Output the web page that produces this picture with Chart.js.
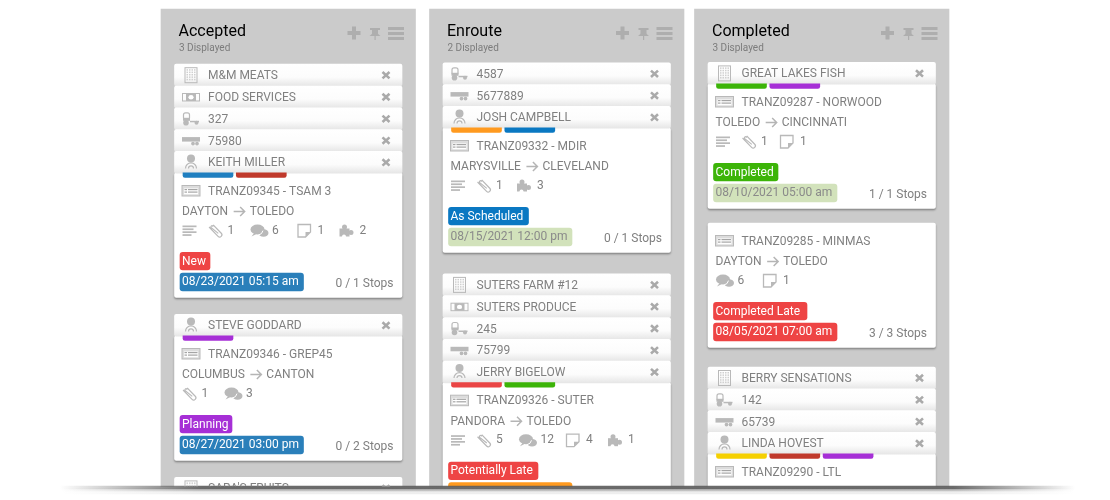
<!DOCTYPE html>
<html>
<head>
<meta charset="utf-8">
<style>html,body{margin:0;background:#fff}canvas{display:block}</style>
<script src="https://cdn.jsdelivr.net/npm/chart.js@4"></script>
</head>
<body>
<canvas id="board" width="1110" height="500"></canvas>
<script>
// board content, one entry per column or per card
const columnNames = ['Accepted', 'Enroute', 'Completed']
const columnCounts = ['3 Displayed', '2 Displayed', '3 Displayed']
const cardColumn = [0, 0, 0, 1, 1, 2, 2, 2]
const cardBodyTop = [173, 336, 499, 128, 382.7, 84, 223, 454]
const cardRows = [
  ['M&M MEATS', 'FOOD SERVICES', '327', '75980', 'KEITH MILLER'],
  ['STEVE GODDARD'],
  ["SARA'S FRUITS"],
  ['4587', '5677889', 'JOSH CAMPBELL'],
  ['SUTERS FARM #12', 'SUTERS PRODUCE', '245', '75799', 'JERRY BIGELOW'],
  ['GREAT LAKES FISH'],
  [],
  ['BERRY SENSATIONS', '142', '65739', 'LINDA HOVEST']
]
const cardRowIcons = [
  ['building', 'money', 'truck', 'trailer', 'person'],
  ['person'],
  ['building'],
  ['truck', 'trailer', 'person'],
  ['building', 'money', 'truck', 'trailer', 'person'],
  ['building'],
  [],
  ['building', 'truck', 'trailer', 'person']
]
const cardTabs = [
  ['#1f7fc0', '#c0392b'], ['#a62fd6'], [], ['#ff9a1f', '#0a78c2'],
  ['#ea4545', '#3cb408'], ['#3cb408', '#a62fd6'], [], ['#f5d000', '#c0392b', '#a62fd6']
]
const cardTrips = ['TRANZ09345 - TSAM 3', 'TRANZ09346 - GREP45', '', 'TRANZ09332 - MDIR', 'TRANZ09326 - SUTER', 'TRANZ09287 - NORWOOD', 'TRANZ09285 - MINMAS', 'TRANZ09290 - LTL']
const cardOrigins = ['DAYTON', 'COLUMBUS', '', 'MARYSVILLE', 'PANDORA', 'TOLEDO', 'DAYTON', '']
const cardDestinations = ['TOLEDO', 'CANTON', '', 'CLEVELAND', 'TOLEDO', 'CINCINNATI', 'TOLEDO', '']
const cardCounts = [
  [['list'], ['clip', 1], ['chat', 6], ['note', 1], ['puzzle', 2]],
  [['clip', 1], ['chat', 3]],
  [],
  [['list'], ['clip', 1], ['puzzle', 3]],
  [['list'], ['clip', 5], ['chat', 12], ['note', 4], ['puzzle', 1]],
  [['list'], ['clip', 1], ['note', 1]],
  [['chat', 6], ['note', 1]],
  []
]
const cardStatus = ['New', 'Planning', '', 'As Scheduled', 'Potentially Late', 'Completed', 'Completed Late', '']
const cardStatusWidth = [30, 52, 0, 80, 89.5, 64.5, 93.5, 0]
const cardStatusColor = ['#ee4444', '#a62fd6', '', '#0a78c2', '#ee4444', '#3cb408', '#ee4444', '']
const cardDates = ['08/23/2021 05:15 am', '08/27/2021 03:00 pm', '', '08/15/2021 12:00 pm', '', '08/10/2021 05:00 am', '08/05/2021 07:00 am', '']
const cardDateColor = ['#2a7fba', '#2a7fba', '', '#d2e2bb', '#ff9a1f', '#d2e2bb', '#ee4444', '']
const cardDateText = ['#fff', '#fff', '', '#8a8a8a', '#fff', '#8a8a8a', '#fff', '']
const cardStops = ['0 / 1 Stops', '0 / 2 Stops', '', '0 / 1 Stops', '', '1 / 1 Stops', '3 / 3 Stops', '']

// column geometry on the 1110 x 500 scales
const boardLeft = [161, 429.5, 694.5]
const boardWidth = 254.5
const cardLeft = [174.5, 443, 708]
const cardWidth = 227.5
const rowH = 21.8
const bodyH = 124.5

function span(l, r, y) { return { x: [l, r], y } }

const boardBars = [], bodyBars = [], rowBars = [], tabBars = [], tabColors = []
const statusBars = [], statusColors = [], dateBars = [], dateColors = []
columnNames.forEach((n, i) => boardBars.push(span(boardLeft[i], boardLeft[i] + boardWidth, 248)))
cardBodyTop.forEach((top, i) => {
  const left = cardLeft[cardColumn[i]]
  bodyBars.push(span(left, left + cardWidth, top + bodyH / 2))
  cardRows[i].forEach((r, j) => {
    const rowTop = top - rowH * (cardRows[i].length - j)
    rowBars.push(span(left, left + cardWidth, rowTop + rowH / 2 + 0.2))
  })
  cardTabs[i].forEach((c, j) => {
    const l = left + 8.5 + j * 53.3
    tabBars.push(span(l, l + 50, top + 2.2))
    tabColors.push(c)
  })
  if (cardStatus[i]) {
    statusBars.push(span(left + 5.5, left + 5.5 + cardStatusWidth[i], top + 88.2))
    statusColors.push(cardStatusColor[i])
  }
  if (cardDateColor[i]) {
    dateBars.push(span(left + 5.5, left + 129, top + 109))
    dateColors.push(cardDateColor[i])
  }
})

function rowGradient(c) {
  const py = c.parsed ? c.chart.scales.y.getPixelForValue(c.parsed.y) : NaN
  if (!Number.isFinite(py)) return '#fff'
  const g = c.chart.ctx.createLinearGradient(0, py - rowH / 2, 0, py + rowH / 2)
  g.addColorStop(0, '#ffffff')
  g.addColorStop(0.6, '#fcfcfc')
  g.addColorStop(1, '#e6e6e6')
  return g
}

// the floor shadow fades out at both ends
function floorGradient(alpha) {
  return c => {
    const g = c.chart.ctx.createLinearGradient(60, 0, 1075, 0)
    g.addColorStop(0, 'rgba(90,90,90,0)')
    g.addColorStop(0.14, `rgba(90,90,90,${alpha})`)
    g.addColorStop(0.88, `rgba(90,90,90,${alpha})`)
    g.addColorStop(1, 'rgba(90,90,90,0)')
    return g
  }
}

// painted back to front, order falls as the layer goes up
const layers = [
  { id: 'boards', data: boardBars, barThickness: 478, backgroundColor: '#cbcbcb' },
  { id: 'bodies', data: bodyBars, barThickness: bodyH, backgroundColor: '#fff', borderRadius: 2 },
  { id: 'rows', data: rowBars, barThickness: rowH, backgroundColor: rowGradient, borderRadius: 2 },
  { id: 'tabs', data: tabBars, barThickness: 4.5, backgroundColor: tabColors, borderRadius: { topLeft: 0, topRight: 0, bottomLeft: 4, bottomRight: 4 } },
  { id: 'status', data: statusBars, barThickness: 17.5, backgroundColor: statusColors, borderRadius: 3 },
  { id: 'dates', data: dateBars, barThickness: 18, backgroundColor: dateColors, borderRadius: 3 },
  { id: 'cover', data: [span(0, 1110, 493.5)], barThickness: 13, backgroundColor: '#fff' },
  { id: 'floor1', data: [span(60, 1075, 487.5)], barThickness: 3, backgroundColor: floorGradient(0.9) },
  { id: 'floor2', data: [span(60, 1075, 490)], barThickness: 2, backgroundColor: floorGradient(0.35) },
  { id: 'floor3', data: [span(60, 1075, 492.5)], barThickness: 3, backgroundColor: floorGradient(0.1) }
]
const datasets = layers.map((l, i) => ({ ...l, label: l.id, grouped: false, borderSkipped: false, order: layers.length - i }))

const ICON = '#b9b9b9'
const icons = {
  building(c, x, y) {
    c.strokeStyle = ICON; c.lineWidth = 1
    c.strokeRect(x - 6, y - 7.5, 12, 15)
    c.fillStyle = '#d0d0d0'
    for (let i = 0; i < 4; i++) for (let j = 0; j < 5; j++) c.fillRect(x - 4.5 + i * 2.5, y - 6 + j * 2.4, 1.5, 1.5)
  },
  money(c, x, y) {
    c.strokeStyle = ICON; c.lineWidth = 1
    c.strokeRect(x - 8.5, y - 3.5, 17, 7.5)
    c.fillStyle = ICON
    c.fillRect(x - 5, y - 3.5, 10, 7.5)
    c.fillStyle = '#fff'
    c.beginPath(); c.ellipse(x, y + 0.2, 2.6, 2.2, 0, 0, Math.PI * 2); c.fill()
  },
  truck(c, x, y) {
    c.strokeStyle = ICON; c.lineWidth = 1.2
    c.beginPath(); c.roundRect(x - 7.5, y - 6, 6, 7, 2); c.stroke()
    c.fillStyle = ICON
    c.fillRect(x - 8, y - 1, 7, 3)
    c.fillRect(x - 1, y + 2, 9, 1.5)
    c.beginPath(); c.arc(x - 5, y + 4, 2.8, 0, Math.PI * 2); c.fill()
    c.beginPath(); c.arc(x + 5.5, y + 4, 2, 0, Math.PI * 2); c.fill()
  },
  trailer(c, x, y) {
    c.fillStyle = ICON
    c.fillRect(x - 9, y - 3.5, 18, 4.5)
    c.beginPath(); c.arc(x + 2, y + 3, 1.9, 0, Math.PI * 2); c.arc(x + 6, y + 3, 1.9, 0, Math.PI * 2); c.fill()
  },
  person(c, x, y) {
    c.fillStyle = ICON
    c.beginPath(); c.arc(x, y - 4, 4, 0, Math.PI * 2); c.fill()
    c.strokeStyle = ICON; c.lineWidth = 1.2
    c.beginPath(); c.arc(x, y + 6, 5.5, Math.PI, 0); c.stroke()
    c.beginPath(); c.arc(x, y + 6, 2.5, Math.PI, 0); c.stroke()
  },
  id(c, x, y) {
    c.fillStyle = '#dcdcdc'
    c.fillRect(x - 9, y - 5, 18, 10.5)
    c.strokeStyle = ICON; c.lineWidth = 1
    c.strokeRect(x - 9, y - 5, 18, 10.5)
    c.fillStyle = '#fff'
    c.fillRect(x - 7, y - 2, 14, 5.8)
    c.fillStyle = '#a5a5a5'
    c.fillRect(x - 6.5, y - 1.5, 2.5, 1.2)
    c.fillRect(x - 6.5, y + 1, 2.5, 1.2)
    c.fillRect(x - 3, y - 1.5, 9.5, 1.2)
    c.fillRect(x - 3, y + 1, 9.5, 1.2)
  },
  list(c, x, y) {
    c.fillStyle = ICON
    ;[14, 11, 14, 9].forEach((w, i) => c.fillRect(x, y - 5 + i * 2.9, w, 1.7))
  },
  clip(c, x, y) {
    c.strokeStyle = ICON; c.lineWidth = 1.2
    c.save(); c.translate(x + 7, y); c.rotate(0.8)
    c.beginPath(); c.moveTo(-7, 2.2); c.lineTo(6, 2.2); c.arc(6, 0, 2.2, Math.PI / 2, -Math.PI / 2, true); c.lineTo(-5, -2.2)
    c.arc(-5, 0, 1.1, -Math.PI / 2, Math.PI / 2, true); c.lineTo(4, 0); c.stroke()
    c.restore()
  },
  chat(c, x, y) {
    c.fillStyle = ICON
    c.beginPath(); c.ellipse(x + 7, y - 1, 7, 5, 0, 0, Math.PI * 2); c.fill()
    c.beginPath(); c.ellipse(x + 13, y + 2.5, 5, 3.8, 0, 0, Math.PI * 2); c.fill()
    c.beginPath(); c.moveTo(x + 1, y + 6); c.lineTo(x + 4, y + 2); c.lineTo(x + 7, y + 3); c.fill()
    c.strokeStyle = '#fff'; c.lineWidth = 1
    c.beginPath(); c.arc(x + 7, y - 1, 5.6, 0.2, 1.4); c.stroke()
  },
  note(c, x, y) {
    c.strokeStyle = ICON; c.lineWidth = 1.3
    c.beginPath(); c.moveTo(x + 13, y + 1.5); c.lineTo(x + 13, y - 6); c.lineTo(x + 0.5, y - 6); c.lineTo(x + 0.5, y + 6.5); c.lineTo(x + 8, y + 6.5); c.closePath(); c.stroke()
    c.fillStyle = ICON
    c.beginPath(); c.moveTo(x + 8, y + 6.5); c.lineTo(x + 8, y + 1.5); c.lineTo(x + 13, y + 1.5); c.fill()
  },
  puzzle(c, x, y) {
    c.fillStyle = ICON
    c.fillRect(x, y - 2, 10, 8)
    c.beginPath(); c.arc(x + 5, y - 3.5, 2.5, 0, Math.PI * 2); c.arc(x + 11.5, y + 2, 2.5, 0, Math.PI * 2); c.fill()
    c.fillStyle = '#fff'
    c.beginPath(); c.arc(x + 4.5, y + 6, 2, 0, Math.PI * 2); c.fill()
  }
}
const iconAdvance = { list: 26, clip: 38, chat: 47, note: 40 }
const iconLead = { chat: 4, puzzle: 2 }
const countOffset = { clip: 19, chat: 21.5, note: 20, puzzle: 20 }

const boardText = {
  id: 'boardText',
  afterDatasetsDraw(chart) {
    const c = chart.ctx
    const X = v => chart.scales.x.getPixelForValue(v)
    const Y = v => chart.scales.y.getPixelForValue(v)
    const GREY = '#808080'
    const text = (s, x, y, font, color, align) => {
      c.font = font; c.fillStyle = color; c.textAlign = align || 'left'; c.textBaseline = 'middle'
      c.fillText(s, X(x), Y(y + 1))
    }
    c.save()
    c.beginPath(); c.rect(0, 0, 1110, Y(486.5)); c.clip()

    columnNames.forEach((name, i) => {
      const l = boardLeft[i]
      text(name, l + 17.5, 31, '16px Roboto', '#000')
      text(columnCounts[i], l + 18, 47, '10px Roboto', '#7c7c7c')
      // header tools
      c.fillStyle = '#aeaeae'
      c.fillRect(X(l + 186.5), Y(31), 13, 4)
      c.fillRect(X(l + 191), Y(26.5), 4, 13)
      c.fillRect(X(l + 209), Y(28), 10, 2)
      c.fillRect(X(l + 211), Y(28), 6, 6)
      c.beginPath(); c.moveTo(X(l + 208.5), Y(36)); c.lineTo(X(l + 219.5), Y(36)); c.lineTo(X(l + 216), Y(33)); c.lineTo(X(l + 212), Y(33)); c.fill()
      c.fillRect(X(l + 213.5), Y(36), 1.2, 4)
      ;[27, 32, 37].forEach(y => c.fillRect(X(l + 227), Y(y), 16, 3))
    })

    cardBodyTop.forEach((top, i) => {
      const left = cardLeft[cardColumn[i]]
      cardRows[i].forEach((r, j) => {
        const y = top - rowH * (cardRows[i].length - j) + rowH / 2 + 0.3
        icons[cardRowIcons[i][j]](c, X(left + 16.5), Y(y))
        text(r, left + 33.5, y, '12px Roboto', GREY)
        c.strokeStyle = '#aaaaaa'; c.lineWidth = 2.6
        c.beginPath()
        c.moveTo(X(left + 208), Y(y - 3.2)); c.lineTo(X(left + 215), Y(y + 3.2))
        c.moveTo(X(left + 215), Y(y - 3.2)); c.lineTo(X(left + 208), Y(y + 3.2))
        c.stroke()
      })
      if (!cardTrips[i]) return
      icons.id(c, X(left + 16.5), Y(top + 17.5))
      text(cardTrips[i], left + 33.5, top + 17.5, '12px Roboto', GREY)
      if (cardOrigins[i]) {
        text(cardOrigins[i], left + 7.5, top + 38, '12px Roboto', GREY)
        const end = left + 7.5 + c.measureText(cardOrigins[i]).width
        c.strokeStyle = '#b5b5b5'; c.lineWidth = 1.5
        c.beginPath()
        c.moveTo(X(end + 5.5), Y(top + 38.5)); c.lineTo(X(end + 16.5), Y(top + 38.5))
        c.moveTo(X(end + 12), Y(top + 34)); c.lineTo(X(end + 16.5), Y(top + 38.5)); c.lineTo(X(end + 12), Y(top + 43))
        c.stroke()
        text(cardDestinations[i], end + 21.5, top + 38, '12px Roboto', GREY)
      }
      let x = left + 8
      cardCounts[i].forEach(([kind, n], k) => {
        if (k && iconLead[kind]) x += iconLead[kind]
        icons[kind](c, X(x), Y(top + 57.5))
        if (n !== undefined) text(String(n), x + countOffset[kind], top + 56.5, '12px Roboto', GREY)
        x += iconAdvance[kind] || 0
      })
      if (cardStatus[i]) text(cardStatus[i], left + 7.5, top + 87.5, '12px Roboto', '#fff')
      if (cardDates[i]) text(cardDates[i], left + 7.5, top + 108, '12px Roboto', cardDateText[i])
      if (cardStops[i]) text(cardStops[i], left + cardWidth - 8.5, top + 109.5, '12px Roboto', GREY, 'right')
    })
    c.restore()
  },
  // soft drop under the card bodies
  beforeDatasetDraw(chart, args) {
    if (chart.data.datasets[args.index].label !== 'bodies') return
    chart.ctx.save()
    chart.ctx.shadowColor = 'rgba(0,0,0,0.35)'
    chart.ctx.shadowBlur = 2
    chart.ctx.shadowOffsetY = 1.5
  },
  afterDatasetDraw(chart, args) {
    if (chart.data.datasets[args.index].label === 'bodies') chart.ctx.restore()
  }
}

const ctx = document.getElementById('board')
const graph = new Chart(ctx, {
  type: 'bar',
  data: { datasets },
  plugins: [boardText],
  options: {
    indexAxis: 'y',
    responsive: false,
    animation: false,
    layout: { padding: 0 },
    plugins: { legend: { display: false }, tooltip: { enabled: false } },
    scales: {
      x: { type: 'linear', min: 0, max: 1110, display: false },
      y: { type: 'linear', min: 0, max: 500, reverse: true, offset: false, display: false }
    }
  }
})
</script>
</body>
</html>
